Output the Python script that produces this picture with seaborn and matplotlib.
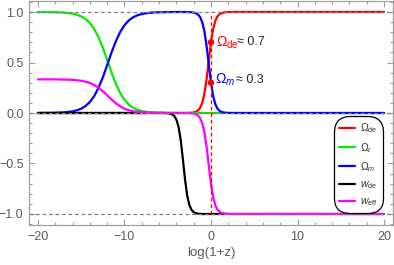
import matplotlib
matplotlib.use("Agg")
import matplotlib.pyplot as plt
import seaborn as sns
import pandas as pd
from matplotlib.ticker import MultipleLocator, FuncFormatter

# ---------------- data ----------------
x = [-20, -19, -18, -17, -16, -15.5, -15, -14.5, -14, -13.5, -13, -12.5, -12,
     -11.5, -11, -10.5, -10, -9.5, -9, -8.5, -8, -7.5, -7, -6.5, -6, -5.5, -5,
     -4.75, -4.5, -4.25, -4, -3.75, -3.5, -3.25, -3, -2.75, -2.5, -2.25, -2,
     -1.75, -1.5, -1.25, -1, -0.75, -0.5, -0.25, 0, 0.25, 0.5, 0.75, 1, 1.25,
     1.5, 1.75, 2, 2.5, 3, 4, 6, 8, 10, 12, 14, 16, 18, 20]

omega_de = [0, 0, 0, 0, 0, 0, 0, 0, 0, 0, 0, 0, 0,
            0, 0, 0, 0, 0, 0, 0, 0, 0, 0, 0, 0, 0, 0,
            0, 0, 0, 0, 0, 0, 0, 0, 0.0006, 0.001, 0.003, 0.006,
            0.012, 0.025, 0.052, 0.104, 0.197, 0.342, 0.524, 0.700, 0.832, 0.913, 0.957, 0.979, 0.990,
            0.995, 0.998, 0.999, 1.0, 1.0, 1.0, 1.0, 1.0, 1.0, 1.0, 1.0, 1.0, 1.0, 1.0]

omega_r = [1.000, 0.999, 0.998, 0.994, 0.984, 0.973, 0.957, 0.931, 0.891, 0.832, 0.750, 0.646, 0.525,
           0.401, 0.289, 0.198, 0.130, 0.083, 0.052, 0.032, 0.020, 0.012, 0.007, 0.0045, 0.003, 0.002, 0.001,
           0.001, 0, 0, 0, 0, 0, 0, 0, 0, 0, 0, 0,
           0, 0, 0, 0, 0, 0, 0, 0, 0, 0, 0, 0, 0,
           0, 0, 0, 0, 0, 0, 0, 0, 0, 0, 0, 0, 0, 0]

omega_m = [0.000, 0.001, 0.002, 0.006, 0.016, 0.027, 0.043, 0.069, 0.109, 0.168, 0.250, 0.354, 0.475,
           0.599, 0.711, 0.802, 0.870, 0.917, 0.948, 0.968, 0.980, 0.988, 0.993, 0.996, 0.997, 0.998, 0.999,
           0.999, 1.0, 1.0, 1.0, 1.0, 1.0, 1.0, 1.0, 0.999, 0.999, 0.997, 0.994,
           0.988, 0.975, 0.948, 0.896, 0.803, 0.658, 0.476, 0.300, 0.168, 0.087, 0.043, 0.021, 0.010,
           0.005, 0.002, 0.001, 0, 0, 0, 0, 0, 0, 0, 0, 0, 0, 0]

w_de = [0, 0, 0, 0, 0, 0, 0, 0, 0, 0, 0, 0, 0,
        0, 0, 0, 0, 0, 0, 0, 0, 0, 0, 0, 0, 0, -0.002,
        -0.006, -0.013, -0.029, -0.065, -0.138, -0.269, -0.458, -0.661, -0.818, -0.911, -0.960, -0.982,
        -0.992, -0.997, -0.999, -1.0, -1.0, -1.0, -1.0, -1.0, -1.0, -1.0, -1.0, -1.0, -1.0,
        -1.0, -1.0, -1.0, -1.0, -1.0, -1.0, -1.0, -1.0, -1.0, -1.0, -1.0, -1.0, -1.0, -1.0]

w_eff = [0.333, 0.333, 0.333, 0.331, 0.328, 0.324, 0.319, 0.310, 0.297, 0.277, 0.250, 0.215, 0.175,
         0.134, 0.096, 0.066, 0.043, 0.028, 0.017, 0.011, 0.007, 0.004, 0.002, 0.0015, 0.001, 0.001, 0,
         0, 0, 0, 0, 0, 0, 0, 0, -0.0005, -0.001, -0.003, -0.006,
         -0.012, -0.025, -0.052, -0.104, -0.197, -0.342, -0.524, -0.700, -0.832, -0.913, -0.957, -0.979, -0.990,
         -0.995, -0.998, -0.999, -1.0, -1.0, -1.0, -1.0, -1.0, -1.0, -1.0, -1.0, -1.0, -1.0, -1.0]

series_labels = [r'$\Omega_{\rm de}$', r'$\Omega_r$', r'$\Omega_m$', r'$w_{\rm de}$', r'$w_{\rm eff}$']
series_colors = ['#ff0000', '#00ee00', '#0000ff', '#000000', '#ff00ff']
x_ticks = [-20, -10, 0, 10, 20]
y_ticks = [-1.0, -0.5, 0.0, 0.5, 1.0]
ref_levels = [1.0, 0.0, -1.0]
today_x = [0, 0]
today_vals = [0.7, 0.3]

# ---------------- style ----------------
sns.set_theme(style='ticks')
plt.rcParams['font.family'] = ['Liberation Sans', 'DejaVu Sans']
plt.rcParams['mathtext.fontset'] = 'custom'
plt.rcParams['mathtext.rm'] = 'Liberation Sans'
plt.rcParams['mathtext.it'] = 'Liberation Sans:italic'

frame_col = '#a0a0a0'
label_col = '#5a5a5a'

fig = plt.figure(figsize=(3.94, 2.65), dpi=100)
ax = fig.add_axes([29 / 394, 40 / 265, 364 / 394, 224 / 265])

series = [omega_de, omega_r, omega_m, w_de, w_eff]
for vals, lab, col in zip(series, series_labels, series_colors):
    sns.lineplot(x=x, y=vals, color=col, label=lab, linewidth=1.6, ax=ax,
                 estimator=None, sort=False, zorder=3)

for lev in ref_levels:
    ax.axhline(lev, color='#808080', linewidth=0.9, linestyle=(0, (3, 2.2)), zorder=4)
ax.vlines(today_x[0], -1.0, 1.0, color='#ff0000', linewidth=0.9,
          linestyle=(0, (3, 2.2)), zorder=4)
sns.scatterplot(x=today_x, y=today_vals, color='#ff0000', s=22, edgecolor='none',
                ax=ax, zorder=5, legend=False)

ax.text(0.55, 0.70, r'$\Omega_{\rm de}$', color='#ff0000', fontsize=10, va='center', ha='left', zorder=6)
ax.text(3.0, 0.70, '≈ 0.7', color='#222222', fontsize=9, va='center', ha='left', zorder=6,
        family=['Liberation Sans', 'DejaVu Sans'])
ax.text(0.45, 0.33, r'$\Omega_m$', color='#0000ff', fontsize=10, va='center', ha='left', zorder=6)
ax.text(2.9, 0.33, '≈ 0.3', color='#222222', fontsize=9, va='center', ha='left', zorder=6,
        family=['Liberation Sans', 'DejaVu Sans'])

ax.set_xlim(-21.04, 21.04)
ax.set_ylim(-1.109, 1.109)
ax.set_xticks(x_ticks)
ax.set_yticks(y_ticks)
ax.xaxis.set_minor_locator(MultipleLocator(2))
ax.yaxis.set_minor_locator(MultipleLocator(0.1))
ax.xaxis.set_major_formatter(FuncFormatter(lambda v, p: f"{v:.0f}".replace('-', '\u2212')))
ax.yaxis.set_major_formatter(FuncFormatter(lambda v, p: f"{v:.1f}".replace('-', '\u2212')))
ax.tick_params(which='both', direction='in', top=True, right=True, color=frame_col,
               labelcolor=label_col, labelsize=9, width=0.8)
ax.tick_params(which='major', length=4.5, pad=4)
ax.tick_params(which='minor', length=2.5)
for sp in ax.spines.values():
    sp.set_color(frame_col)
    sp.set_linewidth(0.9)
ax.set_xlabel('log(1+z)', color=label_col, fontsize=9.5, labelpad=3)
ax.set_ylabel('')

leg = ax.legend(loc='upper right', bbox_to_anchor=(0.968, 0.478), fontsize=7.5,
                frameon=True, handlelength=1.55, handletextpad=0.45, labelspacing=0.52,
                borderpad=0.35, borderaxespad=0)
fr = leg.get_frame()
fr.set_edgecolor('black')
fr.set_linewidth(0.9)
fr.set_facecolor('white')
fr.set_alpha(1)
fr.set_boxstyle('round', pad=0.15, rounding_size=1.5)
for t in leg.get_texts():
    t.set_color('#333333')
for h in leg.legend_handles:
    h.set_linewidth(1.6)

fig.savefig('out.png', dpi=100)
